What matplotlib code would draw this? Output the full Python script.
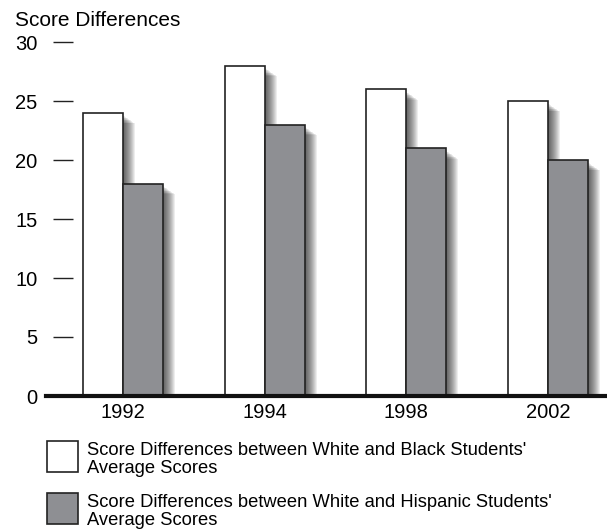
import numpy as np
import matplotlib
matplotlib.use('Agg')
import matplotlib.pyplot as plt
from matplotlib.patches import Rectangle

plt.rcParams['font.family'] = ['Liberation Sans', 'DejaVu Sans']

years = ['1992', '1994', '1998', '2002']
black_diff = [24, 28, 26, 25]
hispanic_diff = [18, 23, 21, 20]
labels = ["Score Differences between White and Black Students'\nAverage Scores",
          "Score Differences between White and Hispanic Students'\nAverage Scores"]
yticks = [0, 5, 10, 15, 20, 25, 30]

gray = '#8e8f93'
edge = '#222222'

fig = plt.figure(figsize=(6.07, 5.29), dpi=100)
ax = fig.add_axes([46 / 607, 133 / 529, 561 / 607, 354 / 529])

x = np.arange(len(years))
w = 0.283
px_x = 1 / 141.7   # data units per pixel
px_y = 30 / 354.0


# soft shadow on the right of each bar, darkest next to the edge
def shadow(xl, h):
    for k in range(1, 13):
        ax.add_patch(Rectangle((xl, 0), w + k * px_x, h - (2 + k * 0.7) * px_y,
                               facecolor='black', alpha=0.07, linewidth=0, zorder=1))


for i in range(len(years)):
    shadow(x[i] - w, black_diff[i])
    shadow(x[i], hispanic_diff[i])

ax.bar(x - w / 2, black_diff, w, color='white', edgecolor=edge, linewidth=1.2, zorder=3)
ax.bar(x + w / 2, hispanic_diff, w, color=gray, edgecolor=edge, linewidth=1.2, zorder=3)

ax.set_xlim(-0.543, 3.416)
ax.set_ylim(0, 30)
for s in ax.spines.values():
    s.set_visible(False)
ax.axhline(0, color='#111111', linewidth=3, zorder=4, clip_on=False)

# short tick dashes
ax.hlines(yticks[1:], -0.494, -0.353, color='#222222', linewidth=1.0, clip_on=False)

ax.set_yticks(yticks)
ax.set_yticklabels([str(t) for t in yticks], fontsize=14.5)
ax.tick_params(axis='y', length=0, pad=6)
ax.set_xticks(x)
ax.set_xticklabels(years, fontsize=14.5)
ax.tick_params(axis='x', length=0, pad=5)

fig.text(15 / 607, 1 - 21 / 529, 'Score Differences', fontsize=15, va='center', ha='left')

# legend
box_colors = ['white', gray]
box_top = [441, 493]
for c, t, lab in zip(box_colors, box_top, labels):
    fig.patches.append(Rectangle((47 / 607, 1 - (t + 31) / 529), 31 / 607, 31 / 529,
                                 transform=fig.transFigure, facecolor=c,
                                 edgecolor=edge, linewidth=1.2))
    fig.text(87 / 607, 1 - (t + 1) / 529, lab, fontsize=13.2, va='top', ha='left',
             linespacing=1.05)

fig.savefig('out.png', dpi=100)
